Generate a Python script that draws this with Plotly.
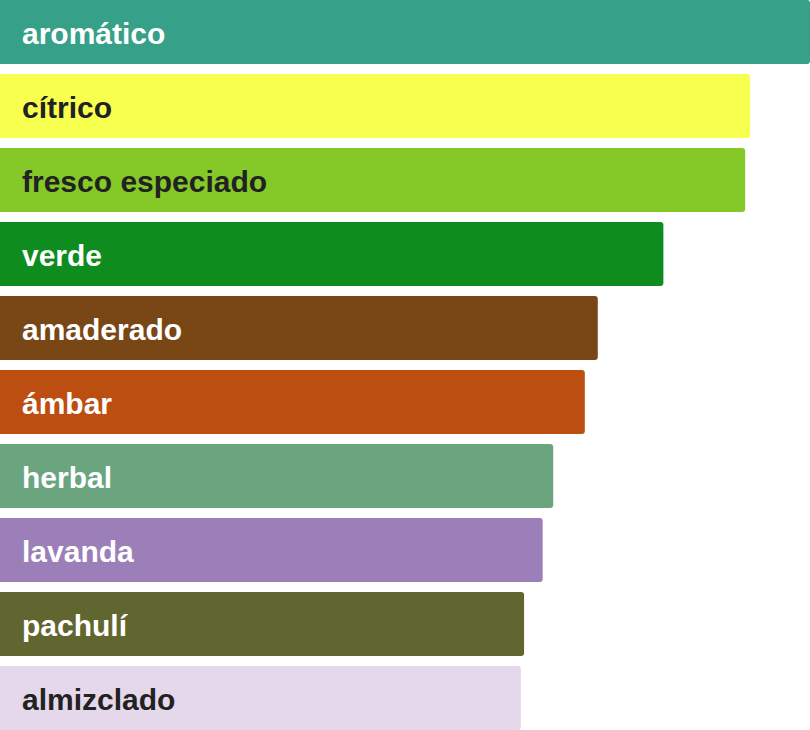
import plotly.graph_objects as go

categories = ["aromático", "cítrico", "fresco especiado", "verde", "amaderado",
              "ámbar", "herbal", "lavanda", "pachulí", "almizclado"]
values = [100, 92.6, 92.0, 81.9, 73.8, 72.2, 68.3, 67.0, 64.7, 64.3]
colors = ["#36A088", "#F7FF4F", "#85C929", "#0E8C1E", "#794616",
          "#BC4E11", "#6BA57F", "#9C7FB8", "#616530", "#E5D8EA"]
text_colors = ["#FFFFFF", "#222222", "#222222", "#FFFFFF", "#FFFFFF",
               "#FFFFFF", "#FFFFFF", "#FFFFFF", "#FFFFFF", "#222222"]

fig = go.Figure(go.Bar(
    x=values, y=categories, orientation="h",
    marker=dict(color=colors, line=dict(width=0)),
    hoverinfo="none",
))

for cat, tc in zip(categories, text_colors):
    fig.add_annotation(x=0, y=cat, xref="x", yref="y", text=cat,
                       showarrow=False, xanchor="left", yanchor="middle",
                       xshift=20, yshift=-1,
                       font=dict(family="Liberation Sans, Arial, sans-serif",
                                 size=30, color=tc, weight="bold"))

h = 0.4324
fig.update_layout(
    width=810, height=730,
    margin=dict(l=0, r=0, t=0, b=0),
    paper_bgcolor="white", plot_bgcolor="white",
    bargap=0.135, barcornerradius=3,
    showlegend=False,
    xaxis=dict(range=[0, max(values)], visible=False, fixedrange=True),
    yaxis=dict(range=[len(categories) - 1 + h, -h], visible=False,
               categoryorder="array", categoryarray=categories, fixedrange=True),
)

fig.write_html("out.html", config={"displayModeBar": False},
               post_script="document.body.style.margin='0';document.body.style.overflow='hidden';")
